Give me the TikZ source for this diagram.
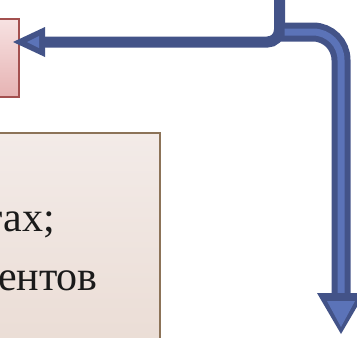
\documentclass[tikz,border=0pt]{standalone}
\usepackage{fontspec}
\setmainfont{Liberation Serif}
\usetikzlibrary{calc}
\definecolor{navy}{HTML}{435388}
\definecolor{lightblue}{HTML}{5B73B8}
\definecolor{redborder}{HTML}{A3504F}
\definecolor{redtop}{HTML}{F7E2E2}
\definecolor{redbot}{HTML}{E6B3B3}
\definecolor{beigeborder}{HTML}{8C7358}
\definecolor{beigetop}{HTML}{F3EBE8}
\definecolor{beigebot}{HTML}{EADCD4}
\definecolor{txt}{HTML}{1A1A1A}
\tikzset{
  redbox/.style={draw=redborder, line width=1.5pt, top color=redtop, bottom color=redbot, minimum width=40pt, minimum height=78pt, inner sep=0pt},
  beigebox/.style={draw=beigeborder, line width=1.5pt, top color=beigetop, bottom color=beigebot, minimum width=180pt, minimum height=228pt, inner sep=0pt},
  bodytext/.style={font=\fontsize{42}{50}\selectfont, text=txt, inner sep=0pt},
  darkshaft/.style={draw=navy, line width=#1},
  lightshaft/.style={draw=lightblue, line width=#1},
}
\begin{document}
\begin{tikzpicture}[x=1pt,y=-1pt]
\useasboundingbox (0,0) rectangle (357,338);
\begin{scope}
\clip (0,0) rectangle (357,338);
% boxes
\node[redbox] (rbox) at (-1,58) {};
\node[beigebox] (bbox) at (70,247) {};
\node[bodytext, anchor=base east] (line1) at (55,231) {тах;};
\node[bodytext, anchor=base east] (line2) at (98,290) {ентов};
% coordinates
\coordinate (top) at (279.5,0);
\coordinate (tipL) at (13,42);
\coordinate (split) at (279.5,32);
\coordinate (tipD) at (341,334);
% arrow 1: from top, down, left to the red box
\draw[darkshaft=11pt, rounded corners=12pt] (top) |- ($(tipL)+(30,0)$);
\fill[navy] (tipL) -- ++(32,-15) -- ++(0,30) -- cycle;
\fill[lightblue] ($(tipL)+(14,0)$) -- ++(12,-6) -- ++(0,12) -- cycle;
% arrow 2: from the split, right, down
\draw[darkshaft=19pt, rounded corners=28pt] (split) -| ($(tipD)+(0,-38)$);
\draw[lightshaft=7pt, rounded corners=28pt] ($(split)+(5,0)$) -| ($(tipD)+(0,-32)$);
\fill[navy] (tipD) -- ++(-24,-41) -- ++(48,0) -- cycle;
\fill[lightblue] ($(tipD)+(0,-7)$) -- ++(-14,-26) -- ++(28,0) -- cycle;
\end{scope}
\end{tikzpicture}
\end{document}
